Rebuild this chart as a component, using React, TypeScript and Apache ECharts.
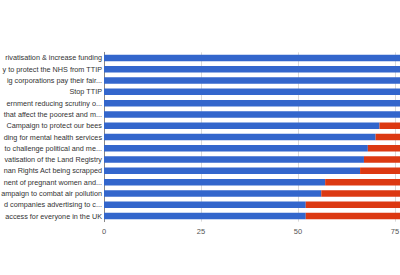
import React, { useEffect, useRef } from "react";
import * as echarts from "echarts";

const categories = [
  "rivatisation & increase funding",
  "y to protect the NHS from TTIP",
  "ig corporations pay their fair...",
  "Stop TTIP",
  "ernment reducing scrutiny o...",
  "that affect the poorest and m...",
  "Campaign to protect our bees",
  "ding for mental health services",
  "to challenge political and me...",
  "vatisation of the Land Registry",
  "nan Rights Act being scrapped",
  "nent of pregnant women and...",
  "ampaign to combat air pollution",
  "d companies advertising to c...",
  "access for everyone in the UK",
];
const blueValues = [97, 95, 93, 90, 85, 79, 71, 70, 68, 67, 66, 57, 56, 52, 52];
const redValues = [3, 5, 7, 10, 15, 21, 29, 30, 32, 33, 34, 43, 44, 48, 48];
const xTicks = [0, 25, 50, 75, 100];

export default function App() {
  const ref = useRef<HTMLDivElement>(null);
  useEffect(() => {
    if (!ref.current) return;
    const chart = echarts.init(ref.current, undefined, { renderer: "svg" });
    chart.setOption({
      animation: false,
      backgroundColor: "#ffffff",
      grid: {
        left: 104,
        right: 108,
        top: 52.35,
        bottom: 53.35,
        containLabel: false,
        outerBoundsMode: "none",
      },
      xAxis: {
        type: "value",
        min: xTicks[0],
        max: xTicks[xTicks.length - 1],
        interval: 25,
        axisLine: { show: false },
        axisTick: { show: false },
        splitLine: { show: true, lineStyle: { color: "#d9d9d9", width: 1 } },
        axisLabel: {
          fontFamily: "Liberation Sans",
          fontSize: 7.5,
          color: "#555",
          margin: 6,
        },
      },
      yAxis: {
        type: "category",
        data: categories,
        inverse: true,
        axisLine: { show: true, lineStyle: { color: "#888", width: 1 } },
        axisTick: { show: false },
        splitLine: { show: false },
        axisLabel: {
          fontFamily: "Liberation Sans",
          fontSize: 7.25,
          color: "#333",
          margin: 2,
        },
      },
      series: [
        {
          type: "bar",
          stack: "total",
          data: blueValues,
          barWidth: 6.5,
          itemStyle: { color: "#3366cc" },
        },
        {
          type: "bar",
          stack: "total",
          data: redValues,
          barWidth: 6.5,
          itemStyle: { color: "#dc3912" },
        },
      ],
    });
    return () => chart.dispose();
  }, []);
  return (
    <div
      style={{
        position: "fixed",
        left: 0,
        top: 0,
        width: 400,
        height: 275,
        overflow: "hidden",
        background: "#fff",
      }}
    >
      <div ref={ref} style={{ width: 600, height: 275 }} />
    </div>
  );
}
